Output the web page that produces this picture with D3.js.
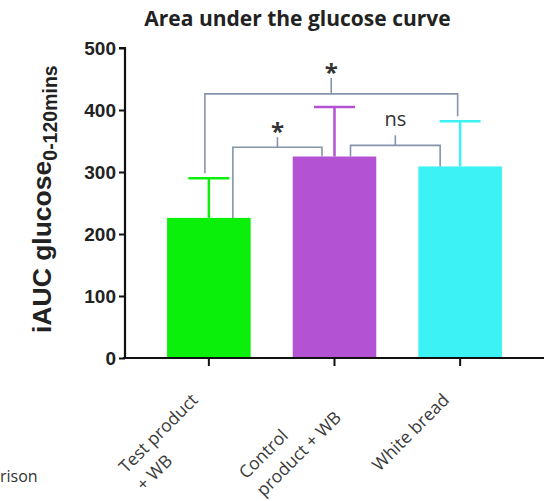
<!DOCTYPE html>
<html>
<head>
<meta charset="utf-8">
<script src="https://cdn.jsdelivr.net/npm/d3@7"></script>
<style>
  html, body { margin: 0; padding: 0; background: #fff; }
  svg { display: block; }
</style>
</head>
<body>
<svg id="chart" width="552" height="501"></svg>
<script>
// ---- data ----
const categories = ["Test product + WB", "Control product + WB", "White bread"];
const categoryLines = [["Test product", "+ WB"], ["Control", "product + WB"], ["White bread"]];
const means = [226, 325, 309];
const errors = [64, 80, 73];
const barColors = ["#0af00a", "#b353d3", "#3cf2f4"];
const yTicks = [0, 100, 200, 300, 400, 500];
const compFrom = [0, 1, 0];
const compTo = [1, 2, 2];
const compLabels = ["*", "ns", "*"];
const compLevels = [340, 343, 426];

// ---- layout (not data) ----
const legOffsets = [[24, -12.5], [16, -20], [-4, -2.5]];
const tickRise = [10, 10, 16];

const svg = d3.select("#chart");
const x = d3.scaleBand().domain(categories).range([125, 544]).padding(0.335);
const y = d3.scaleLinear().domain([0, 500]).range([358, 48]);
const bw = x.bandwidth();
const cx = i => x(categories[i]) + bw / 2;

// title
svg.append("text")
  .attr("x", 297.5).attr("y", 26)
  .attr("text-anchor", "middle")
  .attr("font-family", "'Open Sans', sans-serif")
  .attr("font-weight", "bold")
  .attr("font-size", 21)
  .attr("fill", "#222")
  .text("Area under the glucose curve");

// bars
svg.selectAll("rect.bar").data(means).enter().append("rect")
  .attr("class", "bar")
  .attr("x", (d, i) => x(categories[i]))
  .attr("width", bw)
  .attr("y", d => y(d))
  .attr("height", d => y(0) - y(d))
  .attr("fill", (d, i) => barColors[i]);

// error bars (upper only)
const eb = svg.append("g");
means.forEach((m, i) => {
  eb.append("line")
    .attr("x1", cx(i)).attr("x2", cx(i))
    .attr("y1", y(m)).attr("y2", y(m + errors[i]))
    .attr("stroke", barColors[i]).attr("stroke-width", 2.5);
  eb.append("line")
    .attr("x1", cx(i) - 20.5).attr("x2", cx(i) + 20.5)
    .attr("y1", y(m + errors[i])).attr("y2", y(m + errors[i]))
    .attr("stroke", barColors[i]).attr("stroke-width", 2.5);
});

// axes
const yAxis = d3.axisLeft(y).tickValues(yTicks).tickSize(6).tickPadding(3).tickFormat(d3.format("d"));
const gy = svg.append("g").attr("transform", "translate(125,0)").call(yAxis);
gy.select(".domain").attr("d", `M-6,${y(500)}H0V${y(0)}`).attr("stroke", "#111").attr("stroke-width", 2.2);
gy.selectAll(".tick line").attr("stroke", "#111").attr("stroke-width", 2);
gy.selectAll(".tick text")
  .attr("font-family", "'Liberation Sans', Arial, sans-serif")
  .attr("font-weight", "bold")
  .attr("font-size", 19)
  .attr("fill", "#222");

const xAxis = d3.axisBottom(x).tickSize(8).tickFormat("");
const gx = svg.append("g").attr("transform", `translate(0,${y(0)})`).call(xAxis);
gx.select(".domain").attr("d", "M123,0H544").attr("stroke", "#111").attr("stroke-width", 2.2);
gx.selectAll(".tick line").attr("stroke", "#111").attr("stroke-width", 2);

// x labels: rotated -45, block anchored at its top-right corner, lines left-aligned
const xfs = 17.5;
categoryLines.forEach((lines, i) => {
  const g = svg.append("g")
    .attr("transform", `translate(${cx(i) - 19},${y(0) + 34}) rotate(-45)`);
  const texts = lines.map((ln, k) => g.append("text")
    .attr("y", xfs * 0.74 + k * 25)
    .attr("font-family", "'Open Sans', sans-serif")
    .attr("font-size", xfs)
    .attr("fill", "#3a3a3a")
    .text(ln));
  const w = d3.max(texts, t => t.node().getComputedTextLength());
  texts.forEach(t => t.attr("x", -w));
});

// y label
const yl = svg.append("text")
  .attr("transform", "translate(51,333) rotate(-90)")
  .attr("font-family", "'Liberation Sans', Arial, sans-serif")
  .attr("font-weight", "bold")
  .attr("font-size", 26.5)
  .attr("fill", "#222");
yl.append("tspan").text("iAUC glucose");
yl.append("tspan").attr("dy", 6).attr("font-size", 19.5).text("0-120mins");

// significance brackets
const bc = "#8594ab";
const br = svg.append("g").attr("fill", "none").attr("stroke", bc).attr("stroke-width", 1.6);
compLevels.forEach((lv, j) => {
  const a = compFrom[j], b = compTo[j];
  const xl = cx(a) + legOffsets[j][0];
  const xr = cx(b) + legOffsets[j][1];
  const yb = y(lv);
  const legEnd = (i, xx) => {
    const top = means[i] + errors[i];
    if (lv > top && Math.abs(xx - cx(i)) <= 20.5) return y(top) - 5;
    return y(means[i]);
  };
  br.append("path")
    .attr("d", `M${xl},${legEnd(a, xl)}V${yb}H${xr}V${legEnd(b, xr)}`);
  const xm = (xl + xr) / 2;
  br.append("line").attr("x1", xm).attr("x2", xm).attr("y1", yb).attr("y2", yb - tickRise[j]);
  const isStar = compLabels[j] === "*";
  svg.append("text")
    .attr("x", xm).attr("y", yb - tickRise[j] - (isStar ? -3 : 9))
    .attr("text-anchor", "middle")
    .attr("font-family", "'Open Sans', sans-serif")
    .attr("font-weight", isStar ? "bold" : "normal")
    .attr("font-size", isStar ? 24 : 20)
    .attr("fill", "#333")
    .text(compLabels[j]);
});

// clipped fragment of caption at bottom-left
svg.append("text")
  .attr("x", 0).attr("y", 482)
  .attr("font-family", "'Open Sans', sans-serif")
  .attr("font-size", 16)
  .attr("fill", "#333")
  .text("rison");
</script>
</body>
</html>
